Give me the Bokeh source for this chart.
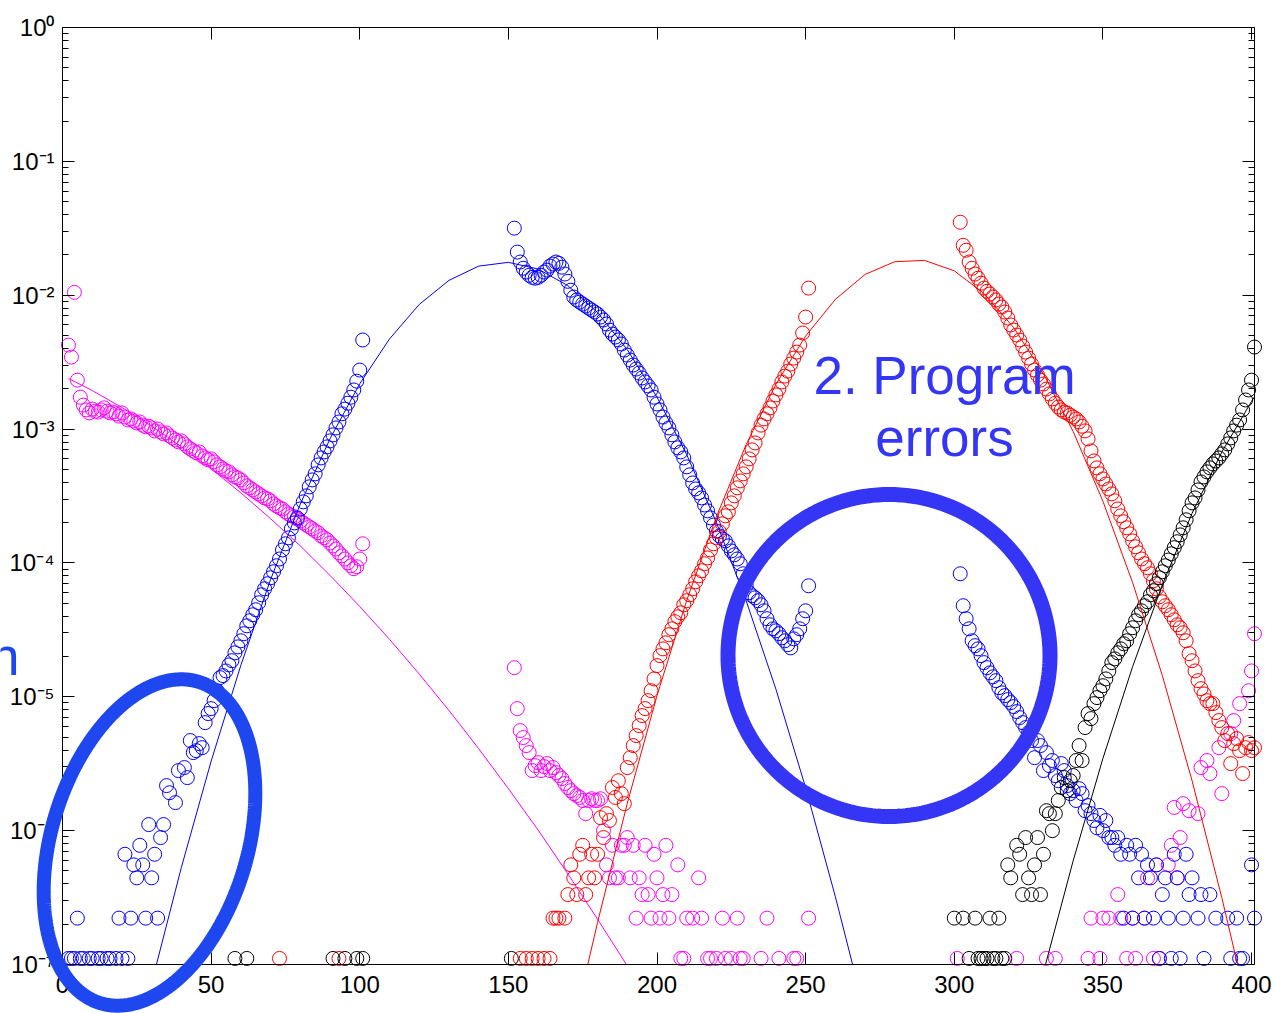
import numpy as np
from bokeh.plotting import figure
from bokeh.models import (Range1d, LogAxis, LinearAxis, FixedTicker, CustomJSTickFormatter,
                          PolyAnnotation, Label)
from bokeh.embed import file_html
from bokeh.resources import INLINE

# ---------------- data ----------------
x_ticks = [0, 50, 100, 150, 200, 250, 300, 350, 400]
y_ticks = [1e-7, 1e-6, 1e-5, 1e-4, 1e-3, 1e-2, 1e-1, 1.0]

# magenta series
mag_x_a = list(range(2, 102))
mag_y_a = [4.24e-3, 3.45e-3, 1.05e-2, 2.32e-3, 1.73e-3, 1.51e-3, 1.39e-3, 1.32e-3, 1.41e-3, 1.36e-3,
           1.34e-3, 1.39e-3, 1.44e-3, 1.36e-3, 1.32e-3, 1.34e-3, 1.30e-3, 1.25e-3, 1.32e-3, 1.23e-3,
           1.17e-3, 1.19e-3, 1.15e-3, 1.11e-3, 1.13e-3, 1.07e-3, 1.04e-3, 1.05e-3, 1.02e-3, 9.69e-4,
           1.00e-3, 9.53e-4, 9.21e-4, 9.36e-4, 8.89e-4, 8.59e-4, 8.30e-4, 8.02e-4, 8.16e-4, 7.75e-4,
           7.36e-4, 7.11e-4, 6.87e-4, 6.64e-4, 6.75e-4, 6.30e-4, 6.09e-4, 5.89e-4, 5.99e-4, 5.69e-4,
           5.40e-4, 5.22e-4, 5.04e-4, 4.87e-4, 4.79e-4, 4.55e-4, 4.39e-4, 4.32e-4, 4.17e-4, 3.96e-4,
           3.76e-4, 3.64e-4, 3.51e-4, 3.39e-4, 3.28e-4, 3.17e-4, 3.06e-4, 3.01e-4, 2.91e-4, 2.76e-4,
           2.67e-4, 2.58e-4, 2.53e-4, 2.41e-4, 2.32e-4, 2.25e-4, 2.21e-4, 2.13e-4, 2.06e-4, 1.99e-4,
           1.92e-4, 1.86e-4, 1.80e-4, 1.73e-4, 1.68e-4, 1.59e-4, 1.54e-4, 1.49e-4, 1.41e-4, 1.34e-4,
           1.27e-4, 1.19e-4, 1.13e-4, 1.07e-4, 1.00e-4, 9.53e-5, 9.05e-5, 9.36e-5, 1.07e-4, 1.39e-4]
mag_x_b = list(range(152, 206))
mag_y_b = [1.65e-5, 8.16e-6, 5.59e-6, 4.96e-6, 4.32e-6, 3.83e-6, 2.81e-6, 3.06e-6, 3.22e-6, 2.81e-6,
           3.01e-6, 3.17e-6, 2.81e-6, 2.96e-6, 2.71e-6, 2.58e-6, 2.45e-6, 2.25e-6, 2.10e-6, 1.99e-6,
           1.89e-6, 1.83e-6, 1.77e-6, 1.68e-6, 1.34e-6, 1.68e-6, 1.73e-6, 1.68e-6, 1.68e-6, 1.73e-6,
           1.00e-6, 5.55e-7, 4.44e-7, 7.77e-7, 4.44e-7, 4.44e-7, 7.77e-7, 7.77e-7, 8.88e-7, 4.44e-7,
           7.77e-7, 2.22e-7, 4.44e-7, 3.33e-7, 7.77e-7, 3.33e-7, 2.22e-7, 6.66e-7, 4.44e-7, 2.22e-7,
           3.33e-7, 7.77e-7, 2.22e-7, 3.33e-7]
mag_x_c = [207, 208, 209, 210, 212, 214, 215, 217, 218, 220, 222, 223, 225, 227, 228, 229, 235, 237,
           241, 246, 247, 251]
mag_y_c = [5.55e-7, 1.11e-7, 1.11e-7, 2.22e-7, 2.22e-7, 4.44e-7, 2.22e-7, 1.11e-7, 1.11e-7, 1.11e-7,
           2.22e-7, 1.11e-7, 1.11e-7, 2.22e-7, 1.11e-7, 1.11e-7, 1.11e-7, 2.22e-7, 1.11e-7, 1.11e-7,
           1.11e-7, 2.22e-7]
mag_x_d = [301, 321, 331, 334, 345, 346, 349, 350, 352, 355, 356, 358, 360, 361, 364, 365, 367, 368,
           369, 372, 373, 374, 375, 376, 377, 379, 382, 383, 385, 386, 389, 390, 393, 394, 396, 399,
           400, 401]
mag_y_d = [1.11e-7, 1.11e-7, 1.11e-7, 1.11e-7, 1.11e-7, 2.22e-7, 1.11e-7, 2.22e-7, 2.22e-7, 3.33e-7,
           2.22e-7, 1.11e-7, 2.22e-7, 1.11e-7, 2.22e-7, 4.44e-7, 1.11e-7, 5.55e-7, 1.11e-7, 5.55e-7,
           7.77e-7, 1.49e-6, 4.44e-7, 8.88e-7, 1.59e-6, 1.41e-6, 1.34e-6, 2.96e-6, 3.34e-6, 2.67e-6,
           4.17e-6, 1.89e-6, 5.31e-6, 6.64e-6, 8.89e-6, 1.11e-5, 1.56e-5, 2.96e-5]

# blue series
blue_x_a = [2, 3, 4, 5, 6, 7, 9, 10, 12, 13, 15, 16, 18, 19, 20, 21, 22, 23, 24, 25, 26, 27, 28, 29,
            30, 31, 32, 33, 34, 35, 36, 38, 39, 41, 42, 43, 44, 45, 46, 47, 48, 49, 50, 51]
blue_y_a = [1.11e-7, 1.11e-7, 1.11e-7, 2.22e-7, 1.11e-7, 1.11e-7, 1.11e-7, 1.11e-7, 1.11e-7, 1.11e-7,
            1.11e-7, 1.11e-7, 1.11e-7, 2.22e-7, 1.11e-7, 6.66e-7, 1.11e-7, 2.22e-7, 5.55e-7, 4.44e-7,
            7.77e-7, 5.55e-7, 2.22e-7, 1.11e-6, 4.44e-7, 6.66e-7, 2.22e-7, 8.88e-7, 1.11e-6, 2.17e-6,
            1.92e-6, 1.62e-6, 2.81e-6, 2.96e-6, 2.49e-6, 4.71e-6, 3.83e-6, 3.96e-6, 4.47e-6, 4.17e-6,
            6.41e-6, 7.49e-6, 8.16e-6, 9.36e-6]
blue_x_b = list(range(52, 102))
blue_y_b = [1.11e-5, 1.39e-5, 1.44e-5, 1.56e-5, 1.73e-5, 1.86e-5, 2.13e-5, 2.36e-5, 2.62e-5, 2.96e-5,
            3.39e-5, 3.70e-5, 4.10e-5, 4.47e-5, 5.04e-5, 5.78e-5, 6.41e-5, 6.99e-5, 7.75e-5, 8.59e-5,
            9.53e-5, 1.07e-4, 1.25e-4, 1.39e-4, 1.54e-4, 1.80e-4, 1.99e-4, 2.17e-4, 2.53e-4, 2.86e-4,
            3.17e-4, 3.70e-4, 4.17e-4, 4.63e-4, 5.40e-4, 6.09e-4, 6.75e-4, 7.36e-4, 8.16e-4, 9.05e-4,
            1.02e-3, 1.13e-3, 1.30e-3, 1.41e-3, 1.56e-3, 1.73e-3, 1.96e-3, 2.28e-3, 2.76e-3, 4.63e-3]
blue_x_c = list(range(152, 252))
blue_y_c = [3.17e-2, 2.10e-2, 1.77e-2, 1.59e-2, 1.49e-2, 1.41e-2, 1.36e-2, 1.34e-2, 1.36e-2, 1.41e-2,
            1.49e-2, 1.54e-2, 1.65e-2, 1.71e-2, 1.77e-2, 1.73e-2, 1.62e-2, 1.44e-2, 1.27e-2, 1.09e-2,
            9.69e-3, 9.21e-3, 8.89e-3, 8.59e-3, 8.30e-3, 8.02e-3, 7.75e-3, 7.49e-3, 7.24e-3, 6.87e-3,
            6.53e-3, 6.09e-3, 5.49e-3, 5.13e-3, 4.87e-3, 4.63e-3, 4.32e-3, 3.89e-3, 3.57e-3, 3.28e-3,
            3.01e-3, 2.81e-3, 2.62e-3, 2.41e-3, 2.25e-3, 2.10e-3, 1.96e-3, 1.73e-3, 1.54e-3, 1.39e-3,
            1.23e-3, 1.11e-3, 1.02e-3, 9.05e-4, 8.02e-4, 7.24e-4, 6.75e-4, 6.09e-4, 5.22e-4, 4.55e-4,
            3.96e-4, 3.57e-4, 3.34e-4, 3.06e-4, 2.71e-4, 2.45e-4, 2.17e-4, 1.92e-4, 1.73e-4, 1.59e-4,
            1.51e-4, 1.46e-4, 1.34e-4, 1.23e-4, 1.15e-4, 1.07e-4, 9.86e-5, 8.30e-5, 6.75e-5, 5.99e-5,
            5.69e-5, 5.49e-5, 5.22e-5, 4.87e-5, 4.39e-5, 3.83e-5, 3.45e-5, 3.22e-5, 3.11e-5, 2.96e-5,
            2.76e-5, 2.62e-5, 2.45e-5, 2.32e-5, 2.71e-5, 2.91e-5, 3.22e-5, 3.83e-5, 4.39e-5, 6.75e-5]
blue_x_d = list(range(302, 381))
blue_y_d = [8.30e-5, 4.79e-5, 3.83e-5, 3.22e-5, 2.62e-5, 2.41e-5, 2.28e-5, 2.03e-5, 1.80e-5, 1.65e-5,
            1.51e-5, 1.41e-5, 1.32e-5, 1.17e-5, 1.07e-5, 1.02e-5, 9.53e-6, 9.05e-6, 8.45e-6, 7.75e-6,
            6.99e-6, 6.41e-6, 5.89e-6, 5.40e-6, 4.71e-6, 3.51e-6, 4.71e-6, 4.32e-6, 2.81e-6, 3.83e-6,
            3.06e-6, 3.34e-6, 2.58e-6, 2.36e-6, 3.17e-6, 2.81e-6, 2.17e-6, 1.89e-6, 1.99e-6, 1.68e-6,
            2.06e-6, 1.89e-6, 1.41e-6, 1.54e-6, 1.34e-6, 1.19e-6, 1.05e-6, 1.30e-6, 1.00e-6, 1.19e-6,
            8.88e-7, 8.88e-7, 7.77e-7, 8.88e-7, 6.66e-7, 2.22e-7, 7.77e-7, 6.66e-7, 2.22e-7, 7.77e-7,
            4.44e-7, 6.66e-7, 2.22e-7, 5.55e-7, 4.44e-7, 2.22e-7, 5.55e-7, 1.11e-7, 3.33e-7, 4.44e-7,
            2.22e-7, 1.11e-7, 6.66e-7, 4.44e-7, 1.11e-7, 2.22e-7, 6.66e-7, 3.33e-7, 4.44e-7]
blue_x_e = [382, 383, 384, 386, 388, 392, 393, 395, 396, 397, 400, 401]
blue_y_e = [2.22e-7, 3.33e-7, 1.11e-7, 3.33e-7, 2.22e-7, 2.22e-7, 1.11e-7, 2.22e-7, 1.11e-7, 1.11e-7,
            5.55e-7, 2.22e-7]

# red series
red_x_a = [73, 93, 154, 156, 158, 160, 162, 164, 165, 166, 167, 169]
red_y_a = [1.11e-7, 1.11e-7, 1.11e-7, 1.11e-7, 1.11e-7, 1.11e-7, 1.11e-7, 1.11e-7, 2.22e-7, 2.22e-7,
           2.22e-7, 2.22e-7]
red_x_b = list(range(170, 252))
red_y_b = [3.33e-7, 5.55e-7, 4.44e-7, 3.33e-7, 6.66e-7, 7.77e-7, 3.33e-7, 4.44e-7, 6.66e-7, 4.44e-7,
           6.66e-7, 1.25e-6, 8.88e-7, 1.34e-6, 1.19e-6, 2.10e-6, 1.77e-6, 2.36e-6, 1.89e-6, 1.59e-6,
           2.96e-6, 3.51e-6, 4.32e-6, 5.13e-6, 6.09e-6, 7.24e-6, 8.16e-6, 9.36e-6, 1.11e-5, 1.36e-5,
           1.71e-5, 2.03e-5, 2.28e-5, 2.53e-5, 2.91e-5, 3.22e-5, 3.64e-5, 3.96e-5, 4.24e-5, 4.87e-5,
           5.22e-5, 5.78e-5, 6.41e-5, 7.24e-5, 8.02e-5, 8.74e-5, 9.86e-5, 1.09e-4, 1.25e-4, 1.39e-4,
           1.54e-4, 1.71e-4, 1.96e-4, 2.25e-4, 2.41e-4, 2.81e-4, 3.17e-4, 3.64e-4, 4.10e-4, 4.63e-4,
           5.22e-4, 5.99e-4, 6.99e-4, 7.88e-4, 9.36e-4, 1.07e-3, 1.19e-3, 1.30e-3, 1.44e-3, 1.62e-3,
           1.80e-3, 1.99e-3, 2.25e-3, 2.49e-3, 2.71e-3, 3.06e-3, 3.39e-3, 3.76e-3, 4.24e-3, 5.22e-3,
           6.87e-3, 1.13e-2]
red_x_c = list(range(302, 402))
red_y_c = [3.51e-2, 2.36e-2, 2.17e-2, 1.77e-2, 1.59e-2, 1.44e-2, 1.34e-2, 1.23e-2, 1.13e-2, 1.07e-2,
           1.02e-2, 9.69e-3, 9.21e-3, 8.59e-3, 8.16e-3, 7.49e-3, 6.75e-3, 5.99e-3, 5.49e-3, 5.04e-3,
           4.63e-3, 4.17e-3, 3.76e-3, 3.39e-3, 3.06e-3, 2.76e-3, 2.53e-3, 2.32e-3, 2.17e-3, 1.99e-3,
           1.83e-3, 1.68e-3, 1.56e-3, 1.46e-3, 1.39e-3, 1.34e-3, 1.32e-3, 1.27e-3, 1.23e-3, 1.19e-3,
           1.13e-3, 1.05e-3, 9.69e-4, 8.45e-4, 6.87e-4, 5.78e-4, 5.13e-4, 4.63e-4, 4.24e-4, 3.89e-4,
           3.57e-4, 3.28e-4, 2.91e-4, 2.53e-4, 2.25e-4, 2.03e-4, 1.83e-4, 1.65e-4, 1.46e-4, 1.32e-4,
           1.19e-4, 1.07e-4, 9.86e-5, 9.21e-5, 8.30e-5, 7.36e-5, 6.41e-5, 5.59e-5, 5.13e-5, 4.79e-5,
           4.47e-5, 4.10e-5, 3.76e-5, 3.45e-5, 3.28e-5, 3.01e-5, 2.62e-5, 2.10e-5, 1.86e-5, 1.56e-5,
           1.32e-5, 1.15e-5, 1.05e-5, 9.36e-6, 8.89e-6, 8.89e-6, 7.62e-6, 6.64e-6, 5.89e-6, 4.71e-6,
           5.31e-6, 3.17e-6, 4.47e-6, 4.87e-6, 3.96e-6, 2.67e-6, 4.17e-6, 4.55e-6, 3.96e-6, 4.17e-6]

# black series
blk_x_a = [58, 62, 91, 95, 99, 101, 151, 300, 303, 305, 307, 308, 309, 310, 311, 312, 313, 314, 315,
           316, 317, 318, 319, 321, 322, 323, 324, 325, 326, 327, 328, 329, 330]
blk_y_a = [1.11e-7, 1.11e-7, 1.11e-7, 1.11e-7, 1.11e-7, 1.11e-7, 1.11e-7, 2.22e-7, 2.22e-7, 1.11e-7,
           2.22e-7, 1.11e-7, 1.11e-7, 1.11e-7, 1.11e-7, 2.22e-7, 1.11e-7, 1.11e-7, 2.22e-7, 1.11e-7,
           1.11e-7, 5.55e-7, 4.44e-7, 7.77e-7, 6.66e-7, 3.33e-7, 8.88e-7, 4.44e-7, 3.33e-7, 5.55e-7,
           8.88e-7, 3.33e-7, 6.66e-7]
blk_x_b = list(range(331, 402))
blk_y_b = [1.41e-6, 1.34e-6, 1.00e-6, 1.34e-6, 1.68e-6, 2.10e-6, 2.49e-6, 1.99e-6, 2.36e-6, 2.58e-6,
           3.34e-6, 4.32e-6, 3.34e-6, 5.89e-6, 7.49e-6, 6.87e-6, 8.89e-6, 9.86e-6, 1.11e-5, 1.21e-5,
           1.36e-5, 1.56e-5, 1.80e-5, 1.92e-5, 2.13e-5, 2.28e-5, 2.49e-5, 2.62e-5, 2.96e-5, 3.28e-5,
           3.70e-5, 4.10e-5, 4.39e-5, 4.79e-5, 5.13e-5, 5.78e-5, 6.20e-5, 6.99e-5, 7.75e-5, 8.59e-5,
           9.53e-5, 1.05e-4, 1.17e-4, 1.30e-4, 1.44e-4, 1.62e-4, 1.83e-4, 2.10e-4, 2.45e-4, 2.81e-4,
           3.06e-4, 3.51e-4, 4.03e-4, 4.39e-4, 4.79e-4, 5.13e-4, 5.49e-4, 5.78e-4, 6.09e-4, 6.53e-4,
           6.99e-4, 7.75e-4, 8.59e-4, 9.69e-4, 1.07e-3, 1.17e-3, 1.39e-3, 1.65e-3, 1.96e-3, 2.32e-3,
           4.10e-3]

# fitted curves (they end where they meet the axes)
mag_fit_x = [2, 10, 20, 30, 40, 50, 60, 70, 80, 90, 100, 110, 120, 130, 140, 150, 160, 170, 180, 189.7]
mag_fit_y = [2.39e-3, 1.94e-3, 1.45e-3, 1.05e-3, 7.38e-4, 5.04e-4, 3.34e-4, 2.14e-4, 1.34e-4, 8.07e-5,
             4.73e-5, 2.69e-5, 1.48e-5, 7.91e-6, 4.10e-6, 2.06e-6, 1.01e-6, 4.76e-7, 2.18e-7, 1.0e-7]
blue_fit_x = [31.6, 40, 50, 60, 70, 80, 90, 100, 110, 120, 130, 140, 150, 160, 170, 180, 190, 200, 210,
              220, 230, 240, 250, 260, 265.8]
blue_fit_y = [1.0e-7, 5.32e-7, 3.30e-6, 1.72e-5, 7.52e-5, 2.75e-4, 8.47e-4, 2.18e-3, 4.71e-3, 8.53e-3,
              1.29e-2, 1.65e-2, 1.76e-2, 1.57e-2, 1.18e-2, 7.43e-3, 3.92e-3, 1.73e-3, 6.43e-4, 2.00e-4,
              5.21e-5, 1.14e-5, 2.09e-6, 3.21e-7, 1.0e-7]
red_fit_x = [176.7, 180, 190, 200, 210, 220, 230, 240, 250, 260, 270, 280, 290, 300, 310, 320, 330, 340,
             350, 360, 370, 380, 390, 395.3]
red_fit_y = [1.0e-7, 2.06e-7, 1.60e-6, 1.02e-5, 5.26e-5, 2.22e-4, 7.67e-4, 2.16e-3, 4.96e-3, 9.31e-3,
             1.43e-2, 1.78e-2, 1.82e-2, 1.52e-2, 1.03e-2, 5.72e-3, 2.59e-3, 9.59e-4, 2.89e-4, 7.13e-5,
             1.44e-5, 2.36e-6, 3.16e-7, 1.0e-7]
blk_fit_x = [330.7, 340, 350, 360, 370, 380, 390, 400, 401]
blk_fit_y = [1.0e-7, 5.96e-7, 3.46e-6, 1.68e-5, 6.87e-5, 2.35e-4, 6.73e-4, 1.61e-3, 1.74e-3]

mag_x = mag_x_a + mag_x_b + mag_x_c + mag_x_d
mag_y = mag_y_a + mag_y_b + mag_y_c + mag_y_d
blue_x = blue_x_a + blue_x_b + blue_x_c + blue_x_d + blue_x_e
blue_y = blue_y_a + blue_y_b + blue_y_c + blue_y_d + blue_y_e
red_x = red_x_a + red_x_b + red_x_c
red_y = red_y_a + red_y_b + red_y_c
blk_x = blk_x_a + blk_x_b
blk_y = blk_y_a + blk_y_b
for a, b in [(mag_x, mag_y), (blue_x, blue_y), (red_x, red_y), (blk_x, blk_y)]:
    assert len(a) == len(b), (len(a), len(b))

# ---------------- layout ----------------
W, H = 1274, 1013
FL, FT, FW, FH = 62, 27, 1192, 937          # axes box inside the canvas (px)
X0, X1 = 0, 401
Y0, Y1 = 1e-7, 1.0
DEC = FH / 7.0                               # px per decade
sxp = FW / (X1 - X0)                         # px per x unit
xr = Range1d(X0 - FL / sxp, X1 + (W - FL - FW) / sxp)
yr = Range1d(10 ** (-7 - (H - FT - FH) / DEC), 10 ** (FT / DEC))

p = figure(width=W, height=H, x_range=xr, y_range=yr, y_axis_type="log",
           output_backend="svg", toolbar_location=None, min_border=0)
p.grid.visible = False
p.outline_line_color = None
p.background_fill_color = "white"
p.border_fill_color = "white"

yfmt = CustomJSTickFormatter(code="""
const sup = {'-':'\u207b','0':'\u2070','1':'\u00b9','2':'\u00b2','3':'\u00b3','4':'\u2074',
             '5':'\u2075','6':'\u2076','7':'\u2077','8':'\u2078','9':'\u2079'};
const e = Math.round(Math.log10(tick));
return '10' + String(e).split('').map(c => sup[c]).join('');
""")
minor = [m * 10.0 ** e for e in range(-7, 0) for m in range(2, 10)]


def style(ax, show_labels, minor_on):
    ax.axis_line_color = "black"
    ax.axis_line_width = 1
    ax.major_tick_line_color = "black"
    ax.major_tick_in = 12
    ax.major_tick_out = 0
    if minor_on:
        ax.minor_tick_line_color = "black"
        ax.minor_tick_in = 6
        ax.minor_tick_out = 0
    else:
        ax.minor_tick_line_color = None
    ax.major_label_text_font = "Liberation Sans"
    if show_labels:
        ax.major_label_text_color = "black"
        ax.major_label_text_font_size = "24px"
    else:
        ax.major_label_text_font_size = "1px"
        ax.major_label_text_alpha = 0.0
        ax.major_label_standoff = 0


xa = p.xaxis[0]
xa.ticker = FixedTicker(ticks=x_ticks)
style(xa, True, False)
xa.major_label_standoff = 11
xa.fixed_location = Y0
xa.bounds = (X0, X1)

ya = p.yaxis[0]
ya.ticker = FixedTicker(ticks=y_ticks, minor_ticks=minor)
ya.formatter = yfmt
style(ya, True, True)
ya.major_label_standoff = 8
ya.fixed_location = X0
ya.bounds = (Y0, Y1)

ra = LogAxis(ticker=FixedTicker(ticks=y_ticks, minor_ticks=minor))
style(ra, False, True)
ra.fixed_location = X1
ra.bounds = (Y0, Y1)
p.add_layout(ra, "right")

ta = LinearAxis(ticker=FixedTicker(ticks=x_ticks))
style(ta, False, False)
ta.fixed_location = Y1
ta.bounds = (X0, X1)
p.add_layout(ta, "above")

# markers
for xs, ys, c in [(mag_x, mag_y, "#ff00ff"), (blue_x, blue_y, "#0000ff"),
                  (red_x, red_y, "#ff0000"), (blk_x, blk_y, "#000000")]:
    p.scatter(xs, ys, marker="circle", size=14, fill_color=None, line_color=c, line_width=1)

# fit lines
for xs, ys, c in [(mag_fit_x, mag_fit_y, "#ff00ff"), (blue_fit_x, blue_fit_y, "#0000ff"),
                  (red_fit_x, red_fit_y, "#ff0000"), (blk_fit_x, blk_fit_y, "#000000")]:
    p.line(xs, ys, line_color=c, line_width=1)


# ---------------- annotations ----------------
def to_data(sx, sy):
    sx = np.asarray(sx, dtype=float)
    sy = np.asarray(sy, dtype=float)
    x = X0 + (sx - FL) / sxp
    y = 10.0 ** (-(sy - FT) / DEC)
    return x, y


t = np.linspace(0, 2 * np.pi, 361)
th = np.radians(17)
ex = 149 + 98 * np.cos(t) * np.cos(th) + 168 * np.sin(t) * np.sin(th)
ey = 842 + 98 * np.cos(t) * np.sin(th) - 168 * np.sin(t) * np.cos(th)
dx, dy = to_data(ex, ey)
p.add_layout(PolyAnnotation(xs=[float(v) for v in dx], ys=[float(v) for v in dy],
                            xs_units="data", ys_units="data",
                            fill_color=None, fill_alpha=0.0,
                            line_color="#1f47f0", line_alpha=1.0, line_width=14))

cx = 888.5 + 161 * np.cos(t)
cy = 655 + 161 * np.sin(t)
dx2, dy2 = to_data(cx, cy)
p.add_layout(PolyAnnotation(xs=[float(v) for v in dx2], ys=[float(v) for v in dy2],
                            xs_units="data", ys_units="data",
                            fill_color=None, fill_alpha=0.0,
                            line_color="#3535f5", line_alpha=1.0, line_width=15))

for txt, sy in [("2. Program", 375), ("errors", 437)]:
    lx, ly = to_data(944, sy)
    p.add_layout(Label(x=float(lx), y=float(ly), text=txt, text_align="center",
                       text_baseline="alphabetic", text_font="Liberation Sans",
                       text_font_size="53px", text_color="#3535f5"))

nx, ny = to_data(19, 656)
p.add_layout(Label(x=float(nx), y=float(ny), text="n", text_align="right",
                   text_baseline="alphabetic", text_font="Liberation Sans",
                   text_font_size="53px", text_color="#1f47f0"))

open("out.html", "w").write(file_html(p, INLINE))
